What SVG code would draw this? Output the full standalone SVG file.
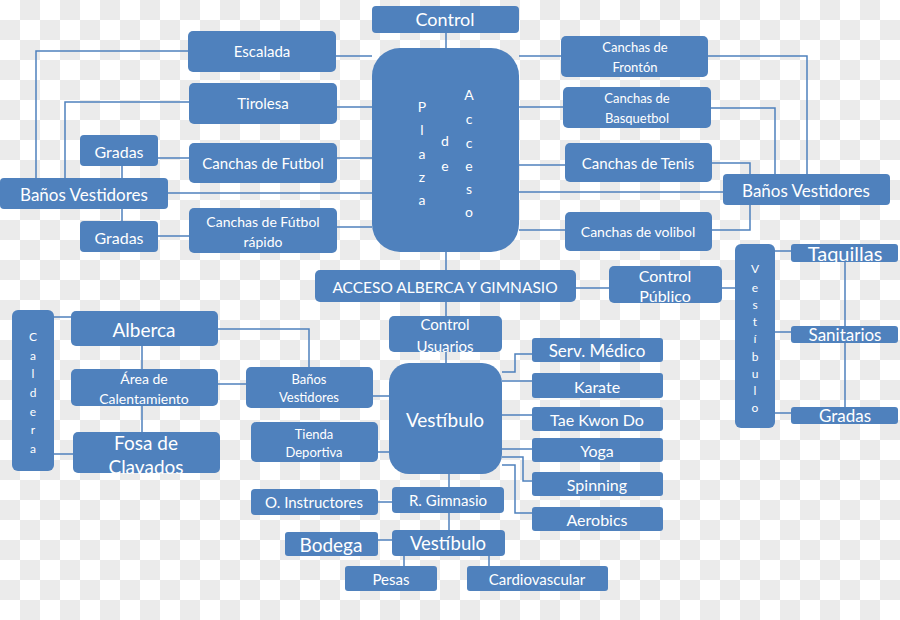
<svg xmlns="http://www.w3.org/2000/svg" width="900" height="620" viewBox="0 0 900 620">
<style>
.n{fill:#4f81bd}
.t{fill:#fff;font-family:Lato,"Liberation Sans",sans-serif;text-anchor:middle;dominant-baseline:central}
.c{fill:none;stroke:#4f81bd;stroke-width:1.5}
.s12{font-size:12px}.s13{font-size:13px}.s14{font-size:14px}.s15{font-size:15px}.s16{font-size:16px}.s17{font-size:17px}.s18{font-size:18px}.s19{font-size:19px}.s20{font-size:20px}
</style>
<defs>
<pattern id="chk" patternUnits="userSpaceOnUse" width="40" height="40">
<rect width="40" height="40" fill="#fff"/>
<rect x="20" y="0" width="20" height="20" fill="#ebebeb"/>
<rect x="0" y="20" width="20" height="20" fill="#ebebeb"/>
</pattern>
</defs>
<rect width="900" height="620" fill="url(#chk)"/>
<g id="connectors" class="c">
<path d="M188,51 H36 V178"/>
<path d="M189,102 H65 V178"/>
<path d="M336,56 H372"/>
<path d="M337,107 H372"/>
<path d="M158,158 H189"/>
<path d="M122,166 V178"/>
<path d="M122,209 V221"/>
<path d="M158,236 H189"/>
<path d="M337,158 H372"/>
<path d="M168,193 H372"/>
<path d="M337,227 H372"/>
<path d="M519,56 H561"/>
<path d="M708,56 H807 V174"/>
<path d="M519,107 H563"/>
<path d="M711,108 H775 V174"/>
<path d="M519,165 H565"/>
<path d="M712,163 H750 V230 H712"/>
<path d="M519,192 H723"/>
<path d="M519,230 H565"/>
<path d="M446,33 V48"/>
<path d="M446,252 V270"/>
<path d="M446,302 V316"/>
<path d="M446,352 V363"/>
<path d="M576,288 H609"/>
<path d="M722,288 H735"/>
<path d="M775,251 H791"/>
<path d="M775,332 H791"/>
<path d="M775,413 H791"/>
<path d="M845,262 V407"/>
<path d="M54,317 H71"/>
<path d="M54,454 H73"/>
<path d="M142,346 V369"/>
<path d="M142,406 V432"/>
<path d="M218,329 H309 V367"/>
<path d="M218,384 H246"/>
<path d="M373,396 H389"/>
<path d="M378,452 H389"/>
<path d="M502,372 H515 V354 H532"/>
<path d="M502,381 H532"/>
<path d="M502,415 H532"/>
<path d="M502,449 H532"/>
<path d="M502,457 H523 V481 H532"/>
<path d="M502,465 H515 V513 H532"/>
<path d="M449,474 V487"/>
<path d="M378,502 H392"/>
<path d="M449,513 V530"/>
<path d="M378,540 H392"/>
<path d="M404,556 V566"/>
<path d="M489,556 V566"/>
</g>
<g id="control"><rect class="n" x="372" y="6" width="147" height="27" rx="4"/><text class="t s18" x="445" y="19">Control</text></g>
<g id="plaza"><rect class="n" x="372" y="48" width="147" height="204" rx="28"/>
<text class="t s14" x="422"><tspan x="422" y="106">P</tspan><tspan x="422" y="129">l</tspan><tspan x="422" y="153">a</tspan><tspan x="422" y="176">z</tspan><tspan x="422" y="199">a</tspan></text>
<text class="t s14" x="445"><tspan x="445" y="140">d</tspan><tspan x="445" y="165">e</tspan></text>
<text class="t s14" x="469"><tspan x="469" y="94">A</tspan><tspan x="469" y="118">c</tspan><tspan x="469" y="142">c</tspan><tspan x="469" y="165">e</tspan><tspan x="469" y="188">s</tspan><tspan x="469" y="211">o</tspan></text>
</g>
<g id="escalada"><rect class="n" x="188" y="31" width="148" height="41" rx="5"/><text class="t s15" x="262" y="51">Escalada</text></g>
<g id="tirolesa"><rect class="n" x="189" y="83" width="148" height="41" rx="5"/><text class="t s15" x="263" y="103">Tirolesa</text></g>
<g id="futbol"><rect class="n" x="189" y="143" width="148" height="40" rx="5"/><text class="t s15" x="263" y="163">Canchas de Futbol</text></g>
<g id="futbol-rapido"><rect class="n" x="189" y="208" width="148" height="45" rx="5"/><text class="t s14" x="263" y="221">Canchas de Fútbol</text><text class="t s14" x="263" y="241">rápido</text></g>
<g id="gradas-1"><rect class="n" x="80" y="135" width="78" height="31" rx="4"/><text class="t s16" x="119" y="151">Gradas</text></g>
<g id="banos-izq"><rect class="n" x="0" y="178" width="168" height="31" rx="4"/><text class="t s17" x="84" y="194">Baños Vestidores</text></g>
<g id="gradas-2"><rect class="n" x="80" y="221" width="78" height="31" rx="4"/><text class="t s16" x="119" y="237">Gradas</text></g>
<g id="fronton"><rect class="n" x="561" y="36" width="147" height="41" rx="5"/><text class="t s13" x="635" y="47">Canchas de</text><text class="t s13" x="635" y="67">Frontón</text></g>
<g id="basquetbol"><rect class="n" x="563" y="87" width="148" height="41" rx="5"/><text class="t s13" x="637" y="98">Canchas de</text><text class="t s13" x="637" y="118">Basquetbol</text></g>
<g id="tenis"><rect class="n" x="565" y="143" width="147" height="39" rx="5"/><text class="t s15" x="638" y="163">Canchas de Tenis</text></g>
<g id="volibol"><rect class="n" x="565" y="212" width="147" height="39" rx="5"/><text class="t s14" x="638" y="231">Canchas de volibol</text></g>
<g id="banos-der"><rect class="n" x="723" y="174" width="167" height="31" rx="4"/><text class="t s17" x="806" y="190">Baños Vestidores</text></g>
<g id="acceso"><rect class="n" x="315" y="270" width="261" height="32" rx="5"/><text class="t" style="font-size:15.5px" x="445" y="287">ACCESO  ALBERCA Y GIMNASIO</text></g>
<g id="control-publico"><rect class="n" x="609" y="266" width="113" height="37" rx="5"/><text class="t s16" x="665" y="275">Control</text><text class="t s16" x="665" y="295">Público</text></g>
<g id="vestibulo-der"><rect class="n" x="735" y="244" width="40" height="184" rx="6"/>
<text class="t s12" x="755"><tspan x="755" y="268">V</tspan><tspan x="755" y="287">e</tspan><tspan x="755" y="304">s</tspan><tspan x="755" y="321">t</tspan><tspan x="755" y="338">í</tspan><tspan x="755" y="356">b</tspan><tspan x="755" y="373">u</tspan><tspan x="755" y="390">l</tspan><tspan x="755" y="407">o</tspan></text></g>
<g id="taquillas"><rect class="n" x="791" y="244" width="107" height="18" rx="3"/><text class="t s20" x="845" y="253">Taquillas</text></g>
<g id="sanitarios"><rect class="n" x="791" y="326" width="107" height="17" rx="3"/><text class="t s17" x="845" y="334">Sanitarios</text></g>
<g id="gradas-3"><rect class="n" x="791" y="407" width="107" height="17" rx="3"/><text class="t s17" x="845" y="415">Gradas</text></g>
<g id="caldera"><rect class="n" x="12" y="310" width="42" height="161" rx="6"/>
<text class="t s12" x="33"><tspan x="33" y="336">C</tspan><tspan x="33" y="355">a</tspan><tspan x="33" y="373">l</tspan><tspan x="33" y="392">d</tspan><tspan x="33" y="411">e</tspan><tspan x="33" y="429">r</tspan><tspan x="33" y="448">a</tspan></text></g>
<g id="alberca"><rect class="n" x="71" y="311" width="147" height="35" rx="5"/><text class="t s19" x="144" y="329">Alberca</text></g>
<g id="calentamiento"><rect class="n" x="71" y="369" width="147" height="37" rx="5"/><text class="t s14" x="144" y="378">Área de</text><text class="t s14" x="144" y="398">Calentamiento</text></g>
<g id="fosa"><rect class="n" x="73" y="432" width="147" height="41" rx="5"/><text class="t s19" x="146" y="442">Fosa de</text><text class="t s19" x="146" y="466">Clavados</text></g>
<g id="banos-centro"><rect class="n" x="246" y="367" width="127" height="41" rx="5"/><text class="t s13" x="309" y="379">Baños</text><text class="t s13" x="309" y="397">Vestidores</text></g>
<g id="tienda"><rect class="n" x="251" y="422" width="127" height="40" rx="5"/><text class="t s13" x="314" y="434">Tienda</text><text class="t s13" x="314" y="452">Deportiva</text></g>
<g id="control-usuarios"><rect class="n" x="389" y="316" width="113" height="36" rx="5"/><text class="t s15" x="445" y="324">Control</text><text class="t s15" x="445" y="346">Usuarios</text></g>
<g id="vestibulo"><rect class="n" x="389" y="363" width="113" height="111" rx="20"/><text class="t s19" x="445" y="419">Vestíbulo</text></g>
<g id="serv-medico"><rect class="n" x="532" y="338" width="131" height="24" rx="3"/><text class="t s17" x="597" y="350">Serv. Médico</text></g>
<g id="karate"><rect class="n" x="532" y="373" width="131" height="25" rx="3"/><text class="t s16" x="597" y="386">Karate</text></g>
<g id="taekwondo"><rect class="n" x="532" y="407" width="131" height="24" rx="3"/><text class="t s16" x="597" y="419">Tae Kwon Do</text></g>
<g id="yoga"><rect class="n" x="532" y="438" width="131" height="24" rx="3"/><text class="t s16" x="597" y="450">Yoga</text></g>
<g id="spinning"><rect class="n" x="532" y="472" width="131" height="24" rx="3"/><text class="t s16" x="597" y="484">Spinning</text></g>
<g id="aerobics"><rect class="n" x="532" y="507" width="131" height="24" rx="3"/><text class="t s16" x="597" y="519">Aerobics</text></g>
<g id="r-gimnasio"><rect class="n" x="392" y="487" width="112" height="26" rx="4"/><text class="t s15" x="448" y="500">R.  Gimnasio</text></g>
<g id="instructores"><rect class="n" x="251" y="489" width="127" height="26" rx="4"/><text class="t s15" x="314" y="502">O. Instructores</text></g>
<g id="vestibulo-inf"><rect class="n" x="392" y="530" width="113" height="26" rx="4"/><text class="t" style="font-size:18.5px" x="448" y="543">Vestíbulo</text></g>
<g id="bodega"><rect class="n" x="285" y="532" width="93" height="24" rx="3"/><text class="t s19" x="331" y="544">Bodega</text></g>
<g id="pesas"><rect class="n" x="345" y="566" width="92" height="25" rx="3"/><text class="t s15" x="391" y="579">Pesas</text></g>
<g id="cardiovascular"><rect class="n" x="467" y="566" width="141" height="25" rx="3"/><text class="t s15" x="537" y="579">Cardiovascular</text></g>
</svg>
